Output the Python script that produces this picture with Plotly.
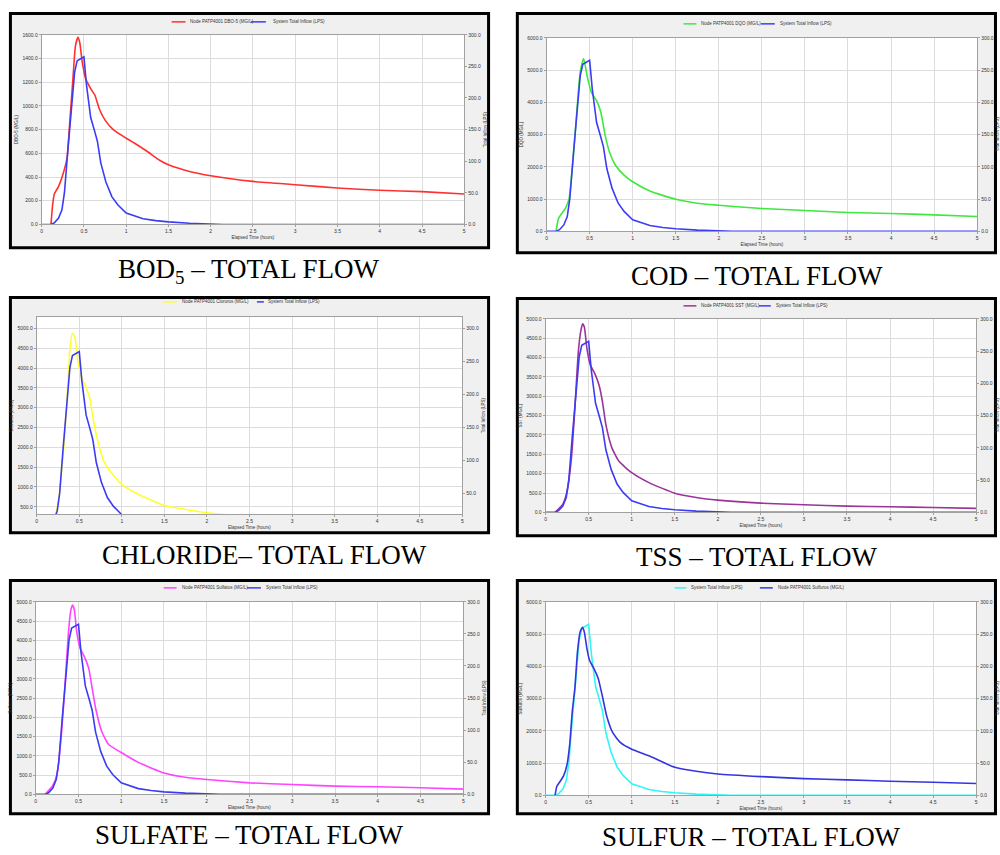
import plotly.graph_objects as go

# ---------------- data ----------------
x_ticks = [0, 0.5, 1, 1.5, 2, 2.5, 3, 3.5, 4, 4.5, 5]
x_ticktext = ["0", "0.5", "1", "1.5", "2", "2.5", "3", "3.5", "4", "4.5", "5"]

flow_t = [0, 0.11, 0.15, 0.2, 0.24, 0.27, 0.31, 0.35, 0.39, 0.42, 0.5, 0.53, 0.58, 0.63, 0.66,
          0.7, 0.76, 0.83, 0.9, 1.0, 1.1, 1.2, 1.35, 1.5, 1.75, 2.1, 2.15, 5]
flow_v = [0, 0, 2.6, 10, 23, 51, 118, 185, 241, 259, 265, 221, 169, 146, 131,
          97, 67, 44, 31, 18, 13, 9, 6, 4, 2, 1, 0, 0]

bod_t = [0.11, 0.13, 0.15, 0.2, 0.25, 0.3, 0.33, 0.37, 0.40, 0.43, 0.45, 0.48, 0.52, 0.58, 0.63,
         0.68, 0.75, 0.85, 1.0, 1.1, 1.25, 1.4, 1.5, 1.75, 2.0, 2.5, 3.0, 3.5, 4.0, 4.5, 5.0]
bod_v = [0, 168, 257, 321, 419, 559, 838, 1230, 1509, 1579, 1537, 1369, 1230, 1146, 1090,
         978, 880, 797, 727, 685, 615, 539, 503, 447, 411, 363, 335, 307, 288, 277, 257]

cod_t = [0.11, 0.14, 0.22, 0.26, 0.31, 0.35, 0.39, 0.43, 0.47, 0.52, 0.58, 0.63, 0.68, 0.73,
         0.8, 0.9, 1.0, 1.2, 1.5, 1.75, 2.0, 2.5, 3.0, 3.5, 4.0, 4.5, 5.0]
cod_v = [0, 410, 718, 1000, 2300, 3692, 4923, 5354, 4820, 4308, 4050, 3692, 2974, 2460,
         2051, 1744, 1538, 1250, 995, 872, 810, 708, 646, 585, 554, 513, 462]

cl_t = [0.11, 0.2, 0.22, 0.25, 0.29, 0.33, 0.37, 0.39, 0.42, 0.45, 0.48, 0.52, 0.57, 0.62, 0.67,
        0.72, 0.79, 0.85, 1.0, 1.2, 1.5, 1.75, 2.0, 2.25, 2.5, 3.0, 4.0, 5.0]
cl_v = [0, 150, 308, 558, 1308, 2308, 3725, 4475, 4875, 4767, 4225, 3808, 3558, 3267, 2642,
        2142, 1642, 1433, 1058, 808, 533, 433, 350, 300, 270, 230, 180, 150]

tss_t = [0.11, 0.2, 0.25, 0.3, 0.34, 0.38, 0.41, 0.43, 0.45, 0.48, 0.52, 0.57, 0.62, 0.66,
         0.7, 0.77, 0.85, 1.0, 1.2, 1.5, 1.75, 2.0, 2.5, 3.0, 3.5, 4.0, 4.5, 5.0]
tss_v = [0, 214, 556, 1410, 2692, 4145, 4700, 4872, 4786, 4231, 3803, 3590, 3290, 2863,
         2265, 1667, 1325, 1026, 769, 496, 385, 316, 239, 197, 162, 145, 128, 103]

so4_t = [0.11, 0.2, 0.25, 0.3, 0.34, 0.38, 0.41, 0.43, 0.45, 0.48, 0.52, 0.57, 0.62, 0.66,
         0.7, 0.77, 0.85, 1.0, 1.2, 1.5, 1.75, 2.0, 2.5, 3.0, 3.5, 4.0, 4.5, 5.0]
so4_v = [0, 231, 531, 1558, 2757, 4127, 4769, 4914, 4812, 4212, 3784, 3570, 3271, 2757,
         2243, 1644, 1301, 1087, 831, 557, 445, 385, 300, 257, 214, 197, 171, 137]

s_t = [0.11, 0.13, 0.17, 0.21, 0.25, 0.28, 0.31, 0.34, 0.37, 0.40, 0.43, 0.45, 0.48, 0.51, 0.56,
       0.61, 0.66, 0.71, 0.78, 0.87, 1.0, 1.2, 1.5, 1.75, 2.0, 2.5, 3.0, 3.5, 4.0, 4.5, 5.0]
s_v = [0, 276, 440, 613, 971, 1584, 2606, 3322, 4446, 5059, 5212, 5059, 4548, 4190, 3935,
       3628, 3066, 2453, 1942, 1635, 1431, 1226, 869, 746, 664, 583, 521, 480, 440, 409, 368]

bod_ticks = [0, 200, 400, 600, 800, 1000, 1200, 1400, 1600]
cod_ticks = [0, 1000, 2000, 3000, 4000, 5000, 6000]
cl_ticks = [500, 1000, 1500, 2000, 2500, 3000, 3500, 4000, 4500, 5000]
tss_ticks = [0, 500, 1000, 1500, 2000, 2500, 3000, 3500, 4000, 4500, 5000]
so4_ticks = tss_ticks
s_ticks = cod_ticks
flow_ticks = [0, 50, 100, 150, 200, 250, 300]

captions = ["BOD<sub>5</sub> – TOTAL FLOW", "COD – TOTAL FLOW", "CHLORIDE– TOTAL FLOW",
            "TSS – TOTAL FLOW", "SULFATE – TOTAL FLOW", "SULFUR – TOTAL FLOW"]

# ---------------- layout config ----------------
W, H = 1000, 855
FLOW_NAME = "System Total Inflow (LPS)"

panels = [
    dict(box=(8, 9, 493, 248), plot=(41, 32, 467, 223), cx=250, cy=270,
         t=bod_t, v=bod_v, yr=[0, 1600], ticks=bod_ticks, fr=[0, 300],
         name="Node PATP4001 DBO-5 (MG/L)", ytitle="DBO-5 (MG/L)", color="#ff3030",
         fcolor="#3c3cf5", top="flow", ly=19,
         leg=[(172, 186, 189), (252, 267, 272)]),
    dict(box=(519, 9, 1004, 253), plot=(550, 35, 984, 230), cx=762, cy=275,
         t=cod_t, v=cod_v, yr=[0, 6000], ticks=cod_ticks, fr=[0, 300],
         name="Node PATP4001 DQO (MG/L)", ytitle="DQO (MG/L)", color="#3fe83f",
         fcolor="#3c3cf5", top="flow", ly=21,
         leg=[(688, 701, 704), (766, 780, 783)]),
    dict(box=(8, 295, 493, 535), plot=(36, 316, 465, 515), cx=266, cy=556,
         t=cl_t, v=cl_v, yr=[308, 5292], ticks=cl_ticks, fr=[18.5, 317.5],
         name="Node PATP4001 Cloruros (MG/L)", ytitle="Cloruros (MG/L)", color="#ffff30",
         fcolor="#3c3cf5", top="flow", ly=301,
         leg=[(163, 177, 180), (258, 265, 267)]),
    dict(box=(519, 296, 1004, 538), plot=(549, 318, 983, 513), cx=762, cy=558,
         t=tss_t, v=tss_v, yr=[0, 5000], ticks=tss_ticks, fr=[0, 300],
         name="Node PATP4001 SST (MG/L)", ytitle="SST (MG/L)", color="#9b3399",
         fcolor="#3c3cf5", top="flow", ly=305,
         leg=[(688, 701, 704), (764, 776, 779)]),
    dict(box=(8, 580, 493, 818), plot=(35, 603, 466, 797), cx=250, cy=838,
         t=so4_t, v=so4_v, yr=[0, 5000], ticks=so4_ticks, fr=[0, 300],
         name="Node PATP4001 Sulfatos (MG/L)", ytitle="Sulfatos (MG/L)", color="#ff44ff",
         fcolor="#3c3cf5", top="flow", ly=589,
         leg=[(164, 177, 180), (248, 262, 265)]),
    dict(box=(519, 580, 1004, 818), plot=(549, 603, 983, 798), cx=757, cy=840,
         t=s_t, v=s_v, yr=[0, 6000], ticks=s_ticks, fr=[0, 300],
         name="Node PATP4001 Sulfuros (MG/L)", ytitle="Sulfuros (MG/L)", color="#3535e0",
         fcolor="#33f5f5", top="conc", ly=589,
         leg=[(765, 778, 781), (679, 691, 694)]),
]


def fx(x):
    return x / W


def fy(y):
    return 1 - y / H


SMALL = dict(family="Liberation Sans Narrow, Liberation Sans, Arial", size=4.5, color="#333333")
TICKFONT = dict(family="Liberation Sans, Arial", size=5, color="#333333")
GRID = "#dcdcdc"
FRAME = "#a0a0a0"

fig = go.Figure()
layout = {}
shapes = []
annotations = []

for i, p in enumerate(panels):
    n = i + 1
    xs = "" if n == 1 else str(n)
    xref = "x" + xs
    base_ref = "y" + xs
    over_ref = "y" + str(n + 6)
    x0, y0, x1, y1 = p["plot"]
    bx0, by0, bx1, by1 = p["box"]

    # panel box and plot area background
    shapes.append(dict(type="rect", xref="paper", yref="paper", x0=fx(bx0 + 1.5), x1=fx(bx1 - 1.5),
                       y0=fy(by1 - 1.5), y1=fy(by0 + 1.5), fillcolor="#f0f0f0",
                       line=dict(color="black", width=3), layer="below"))
    shapes.append(dict(type="rect", xref="paper", yref="paper", x0=fx(x0), x1=fx(x1),
                       y0=fy(y1), y1=fy(y0), fillcolor="white", line=dict(width=0), layer="below"))

    conc_axis = dict(range=p["yr"], tickvals=p["ticks"], tickformat=".1f", tickfont=TICKFONT,
                     showgrid=True, gridcolor=GRID, gridwidth=1, zeroline=False,
                     showline=True, linecolor=FRAME, linewidth=1, ticks="outside", ticklen=2,
                     tickcolor=FRAME, side="left",
                     title=dict(text=p["ytitle"], font=SMALL, standoff=3))
    flow_axis = dict(range=p["fr"], tickvals=flow_ticks, tickformat=".1f", tickfont=TICKFONT,
                     showgrid=False, zeroline=False, showline=True, linecolor=FRAME, linewidth=1,
                     ticks="outside", ticklen=2, tickcolor=FRAME, side="right",
                     title=dict(text="Total Inflow (LPS)", font=SMALL, standoff=3))

    if p["top"] == "flow":
        base, over = conc_axis, flow_axis
        conc_ref, flow_ref = base_ref, over_ref
    else:
        base, over = flow_axis, conc_axis
        conc_ref, flow_ref = over_ref, base_ref
    base.update(domain=[fy(y1), fy(y0)], anchor=xref)
    over.update(overlaying=base_ref, anchor=xref)
    layout["yaxis" + xs] = base
    layout["yaxis" + str(n + 6)] = over
    layout["xaxis" + xs] = dict(domain=[fx(x0), fx(x1)], range=[0, 5], anchor=base_ref,
                                tickvals=x_ticks, ticktext=x_ticktext, tickfont=TICKFONT,
                                showgrid=True, gridcolor=GRID, gridwidth=1, zeroline=False,
                                showline=True, mirror=True, linecolor=FRAME, linewidth=1,
                                ticks="outside", ticklen=2, tickcolor=FRAME,
                                title=dict(text="Elapsed Time (hours)", font=SMALL, standoff=2))

    conc_trace = go.Scatter(x=p["t"], y=p["v"], mode="lines", name=p["name"],
                            line=dict(color=p["color"], width=1.6, shape="spline", smoothing=0.5),
                            xaxis=xref, yaxis=conc_ref, showlegend=False)
    flow_trace = go.Scatter(x=flow_t, y=flow_v, mode="lines", name=FLOW_NAME,
                            line=dict(color=p["fcolor"], width=1.6),
                            xaxis=xref, yaxis=flow_ref, showlegend=False)
    fig.add_trace(conc_trace)
    fig.add_trace(flow_trace)

    # legend drawn as line samples + text
    entries = [(p["name"], p["color"]), (FLOW_NAME, p["fcolor"])]
    for (lx0, lx1, tx), (label, col) in zip(p["leg"], entries):
        shapes.append(dict(type="line", xref="paper", yref="paper", x0=fx(lx0), x1=fx(lx1),
                           y0=fy(p["ly"]), y1=fy(p["ly"]), line=dict(color=col, width=1.5)))
        annotations.append(dict(x=fx(tx), y=fy(p["ly"]), xref="paper", yref="paper", text=label,
                                showarrow=False, xanchor="left", yanchor="middle", font=SMALL))

    # caption
    annotations.append(dict(x=fx(p["cx"]), y=fy(p["cy"]), xref="paper", yref="paper",
                            text=captions[i], showarrow=False, xanchor="center", yanchor="middle",
                            font=dict(family="Liberation Serif, Times New Roman", size=27,
                                      color="black")))

fig.update_layout(width=W, height=H, margin=dict(l=0, r=0, t=0, b=0),
                  paper_bgcolor="white", plot_bgcolor="rgba(0,0,0,0)",
                  showlegend=False, shapes=shapes, annotations=annotations, **layout)

fig.write_html("out.html", config={"displayModeBar": False},
               post_script="document.body.style.margin='0';document.body.style.overflow='hidden';")
